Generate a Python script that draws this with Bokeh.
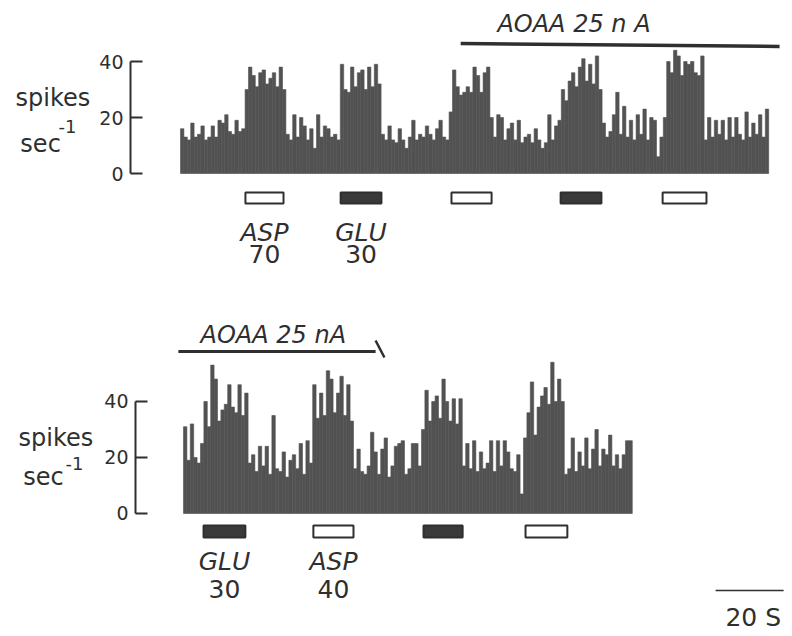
from bokeh.plotting import figure
from bokeh.models import LinearAxis, FixedTicker, Label, ColumnDataSource
from bokeh.layouts import column
from bokeh.embed import file_html
from bokeh.resources import INLINE
from bokeh.core.properties import value

# Firing-rate histograms, 1 s bins (spikes / s)
BIN_S = 1.0

top_rate = [
    16, 13, 12, 18, 13, 14, 17, 12, 13, 17, 13, 19, 18, 21, 15, 14, 19, 15, 16,
    30, 38, 35, 31, 36, 37, 32, 34, 36, 31, 38, 30,
    14, 12, 21, 13, 20, 17, 12, 16, 9, 21, 13, 17, 16, 13, 14, 12,
    39, 30, 29, 38, 31, 36, 37, 30, 38, 31, 39, 32,
    14, 12, 17, 12, 11, 16, 12, 9, 13, 19, 12, 14, 13, 17, 14, 12, 16, 19, 13, 12, 22,
    37, 31, 28, 29, 31, 29, 38, 35, 29, 36, 38, 20,
    13, 21, 20, 12, 16, 18, 12, 19, 11, 13, 14, 11, 16, 12, 9, 11, 21, 12, 17, 19,
    30, 26, 33, 36, 31, 38, 41, 33, 39, 32, 42, 30,
    18, 13, 15, 21, 29, 14, 24, 13, 19, 12, 21, 14, 23, 12, 20, 19, 6, 13,
    20, 40, 36, 44, 42, 35, 40, 39, 40, 36, 35, 42,
    12, 20, 13, 19, 14, 19, 12, 20, 13, 20, 14, 12, 22, 13, 18, 14, 21, 13, 23,
]

bottom_rate = [
    31, 19, 32, 20, 18, 25,
    40, 31, 53, 48, 33, 37, 39, 46, 38, 36, 46, 35, 43,
    18, 21, 15, 24, 17, 24, 14, 35, 16, 15, 22, 13, 19, 21, 16, 25, 14, 26, 18,
    46, 34, 43, 35, 51, 48, 36, 43, 49, 35, 46, 33,
    16, 23, 15, 14, 17, 29, 22, 14, 23, 27, 13, 17, 24, 25, 26, 14, 16, 25, 25, 17,
    30, 44, 33, 40, 42, 34, 48, 40, 33, 41, 32, 41,
    17, 25, 16, 26, 15, 22, 16, 18, 26, 15, 26, 17, 26, 22, 16, 15, 21, 7,
    27, 36, 47, 28, 38, 42, 45, 39, 54, 40, 48, 40,
    14, 16, 27, 15, 22, 17, 27, 16, 23, 30, 17, 23, 21, 28, 17, 21, 16, 21, 26, 26,
]

# Iontophoretic pulses (s from start of each record)
top_drugs = ["ASP", "GLU", "ASP", "GLU", "ASP"]
top_on = [19.1, 47.1, 79.7, 111.8, 141.8]
top_off = [30.3, 59.1, 91.5, 123.8, 154.7]
top_doses = ["70", "30"]

bottom_drugs = ["GLU", "ASP", "GLU", "ASP"]
bottom_on = [5.9, 38.2, 70.6, 100.6]
bottom_off = [18.2, 50.0, 82.1, 112.9]
bottom_doses = ["30", "40"]

# AOAA ejection periods (s)
top_aoaa = [82.4, 176.2]
bottom_aoaa = [-1.5, 56.5]

SCALE_BAR_S = 20

INK = "#2f2f2f"
HIST = "#525252"
FONT = "DejaVu Sans"


def panel(rates, drugs, on, off, doses, frame_h, x_range, y_range, axis_x,
          bar_y, name_y, dose_y, ylab):
    p = figure(frame_width=792, frame_height=frame_h,
               x_range=x_range, y_range=y_range,
               x_axis_location=None, y_axis_location=None,
               toolbar_location=None, output_backend="svg",
               min_border=0,
               background_fill_color="white", border_fill_color="white")
    p.outline_line_color = None
    p.xgrid.grid_line_color = None
    p.ygrid.grid_line_color = None

    # y axis bracket 0-40, pinned just left of the record
    ax = LinearAxis(ticker=FixedTicker(ticks=[0, 20, 40]), bounds=(0, 40),
                    fixed_location=axis_x)
    ax.axis_line_width = 2
    ax.axis_line_color = INK
    ax.major_tick_line_width = 2
    ax.major_tick_line_color = INK
    ax.major_tick_in = 12
    ax.major_tick_out = 0
    ax.minor_tick_line_color = None
    ax.major_label_standoff = 7
    ax.major_label_text_font = FONT
    ax.major_label_text_font_size = "19px"
    ax.major_label_text_color = INK
    p.add_layout(ax, "left")

    left = [i * BIN_S for i in range(len(rates))]
    right = [l + BIN_S for l in left]
    src = ColumnDataSource(dict(left=left, right=right, top=rates))
    p.quad(left="left", right="right", bottom=0, top="top", source=src,
           fill_color=HIST, line_color=HIST, line_width=0.6)

    fills = ["white" if d == "ASP" else "#3a3a3a" for d in drugs]
    stim = ColumnDataSource(dict(left=on, right=off, fill=fills))
    p.quad(left="left", right="right", bottom=bar_y[0], top=bar_y[1],
           source=stim, fill_color="fill", line_color=INK, line_width=2)

    n = len(doses)
    mids = [(a + b) / 2 for a, b in zip(on[:n], off[:n])]
    lab = ColumnDataSource(dict(x=mids, name=drugs[:n], dose=doses))
    p.text(x="x", y=name_y, text="name", source=lab, text_align="center",
           text_baseline="middle", text_font=value(FONT),
           text_font_style="italic", text_font_size="25px", text_color=INK)
    p.text(x="x", y=dose_y, text="dose", source=lab, text_align="center",
           text_baseline="middle", text_font=value(FONT),
           text_font_size="25px", text_color=INK)

    for txt, x, y, size in ylab:
        p.add_layout(Label(x=x, y=y, text=txt, text_font=FONT,
                           text_font_size=size, text_color=INK,
                           text_baseline="middle", text_align="left"))
    return p


top = panel(top_rate, top_drugs, top_on, top_off, top_doses,
            300, (-52.94, 180.0), (-45.36, 61.79), -14.71,
            (-10.7, -6.8), -21.1, -28.6,
            [("spikes", -48.5, 27.1, "24px"), ("sec", -47.1, 10.7, "24px"),
             ("-1", -35.9, 16.8, "18px")])
top.line(x=top_aoaa, y=[46.4, 45.4], line_width=3.5, line_color=INK)
top.add_layout(Label(x=93.2, y=53.4, text="AOAA   25  n A", text_font=FONT,
                     text_font_style="italic", text_font_size="24px",
                     text_color=INK, text_baseline="alphabetic"))

bottom = panel(bottom_rate, bottom_drugs, bottom_on, bottom_off, bottom_doses,
               336, (-53.82, 179.12), (-43.93, 76.07), -14.12,
               (-8.6, -4.3), -17.1, -27.1,
               [("spikes", -48.5, 27.1, "24px"), ("sec", -47.1, 12.9, "24px"),
                ("-1", -34.7, 17.9, "18px")])
bottom.line(x=bottom_aoaa, y=[57.9, 57.9], line_width=3, line_color=INK)
bottom.line(x=[bottom_aoaa[1], bottom_aoaa[1] + 2.6], y=[61.8, 55.7],
            line_width=2.5, line_color=INK)
bottom.add_layout(Label(x=5.0, y=63.6, text="AOAA  25  nA", text_font=FONT,
                        text_font_style="italic", text_font_size="24px",
                        text_color=INK, text_baseline="alphabetic"))

# time scale bar
sb_x0 = 156.5
bottom.line(x=[sb_x0, sb_x0 + SCALE_BAR_S], y=[-27.5, -27.5],
            line_width=1.5, line_color=INK)
bottom.add_layout(Label(x=159.4, y=-37.1, text="20 S", text_font=FONT,
                        text_font_size="25px", text_color=INK,
                        text_baseline="middle", text_align="left"))

layout = column(top, bottom, spacing=0)
open("out.html", "w").write(file_html(layout, INLINE))
